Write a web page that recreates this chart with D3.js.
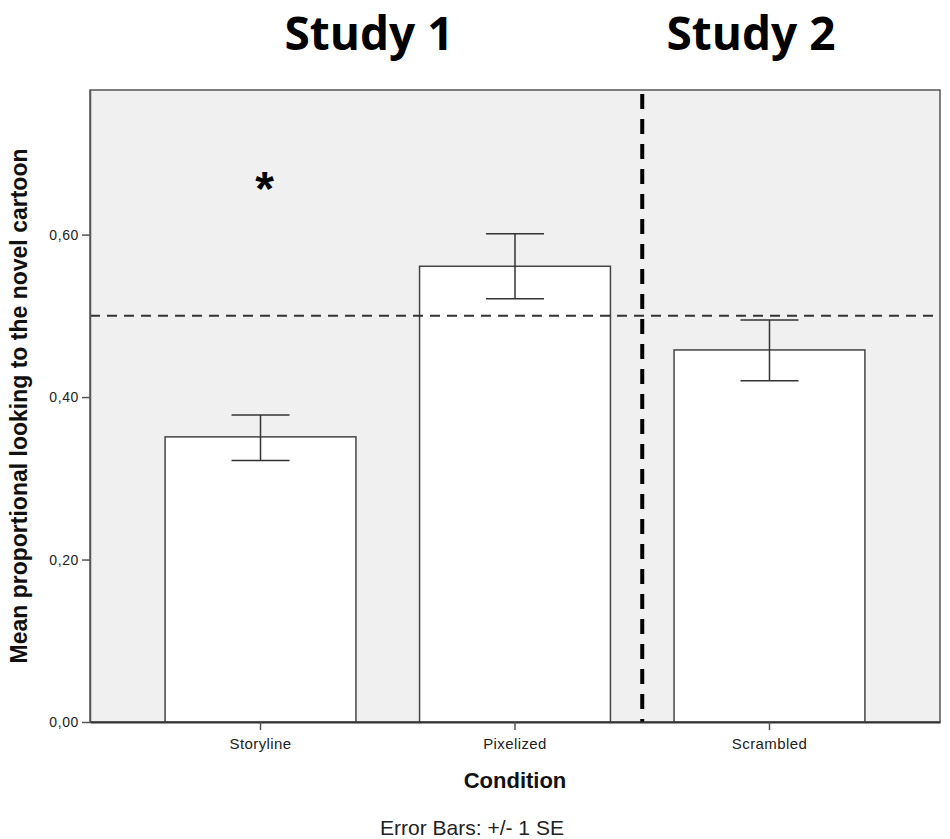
<!DOCTYPE html>
<meta charset="utf-8">
<style>
    body { margin: 0; background: white; }
</style>
<script src="https://d3js.org/d3.v7.min.js"></script>
<body>
<script>

    // data
    var conditions = ["Storyline", "Pixelized", "Scrambled"]
    var means = [0.351, 0.561, 0.458]
    var seLow = [0.322, 0.521, 0.420]
    var seHigh = [0.378, 0.601, 0.495]
    var yTicks = [0, 0.2, 0.4, 0.6]
    var chance = 0.5
    var studies = ["Study 1", "Study 2"]

    var width = 950
    var height = 839
    var margin = { top: 90, right: 10, bottom: 117, left: 90 }

    var svg = d3.select("body")
        .append("svg")
        .attr("width", width)
        .attr("height", height)

    var x = d3.scaleBand()
        .domain(conditions)
        .range([margin.left, width - margin.right])
        .paddingInner(0.25)
        .paddingOuter(0.295)

    var y = d3.scaleLinear()
        .domain([0, 0.778])
        .range([height - margin.bottom, margin.top])

    var fmt = d3.formatLocale({ decimal: ",", thousands: ".", grouping: [3], currency: ["", ""] }).format(".2f")

    // plot background
    svg.append("rect")
        .attr("x", margin.left)
        .attr("y", margin.top)
        .attr("width", width - margin.left - margin.right)
        .attr("height", height - margin.top - margin.bottom)
        .attr("fill", "#f0f0f0")
        .attr("stroke", "#555")
        .attr("stroke-width", 1.5)

    // bars
    svg.selectAll(".bar")
        .data(conditions)
        .enter()
        .append("rect")
        .attr("class", "bar")
        .attr("x", function (d) { return x(d) })
        .attr("width", x.bandwidth())
        .attr("y", function (d, i) { return y(means[i]) })
        .attr("height", function (d, i) { return y(0) - y(means[i]) })
        .attr("fill", "white")
        .attr("stroke", "#444")
        .attr("stroke-width", 1.5)

    // chance line
    svg.append("line")
        .attr("x1", margin.left)
        .attr("x2", width - margin.right)
        .attr("y1", y(chance))
        .attr("y2", y(chance))
        .attr("stroke", "#333")
        .attr("stroke-width", 2)
        .attr("stroke-dasharray", "10,7")

    // error bars
    var cap = 29
    var eb = svg.selectAll(".eb")
        .data(conditions)
        .enter()
        .append("g")
        .attr("class", "eb")
        .attr("stroke", "#333")
        .attr("stroke-width", 1.5)

    eb.append("line")
        .attr("x1", function (d) { return x(d) + x.bandwidth() / 2 })
        .attr("x2", function (d) { return x(d) + x.bandwidth() / 2 })
        .attr("y1", function (d, i) { return y(seLow[i]) })
        .attr("y2", function (d, i) { return y(seHigh[i]) })
    eb.append("line")
        .attr("x1", function (d) { return x(d) + x.bandwidth() / 2 - cap })
        .attr("x2", function (d) { return x(d) + x.bandwidth() / 2 + cap })
        .attr("y1", function (d, i) { return y(seHigh[i]) })
        .attr("y2", function (d, i) { return y(seHigh[i]) })
    eb.append("line")
        .attr("x1", function (d) { return x(d) + x.bandwidth() / 2 - cap })
        .attr("x2", function (d) { return x(d) + x.bandwidth() / 2 + cap })
        .attr("y1", function (d, i) { return y(seLow[i]) })
        .attr("y2", function (d, i) { return y(seLow[i]) })

    // divider between studies
    var divX = (x("Pixelized") + x.bandwidth() + x("Scrambled")) / 2
    svg.append("line")
        .attr("x1", divX)
        .attr("x2", divX)
        .attr("y1", margin.top + 4)
        .attr("y2", y(0))
        .attr("stroke", "black")
        .attr("stroke-width", 4)
        .attr("stroke-dasharray", "15,10")

    // axes
    var yAxis = svg.append("g")
        .attr("transform", "translate(" + margin.left + ",0)")
        .call(d3.axisLeft(y).tickValues(yTicks).tickFormat(fmt).tickSize(8).tickSizeOuter(0))
    yAxis.select(".domain").attr("stroke", "#555").attr("stroke-width", 1.5)
    yAxis.selectAll(".tick line").attr("stroke", "#555").attr("stroke-width", 1.5)
    yAxis.selectAll(".tick text")
        .attr("x", -11)
        .attr("font-family", "Liberation Sans, Arial, sans-serif")
        .attr("font-size", "14px")
        .attr("letter-spacing", "0.6px")
        .attr("fill", "#222")

    var xAxis = svg.append("g")
        .attr("transform", "translate(0," + y(0) + ")")
        .call(d3.axisBottom(x).tickSize(8).tickSizeOuter(0))
    xAxis.select(".domain").attr("stroke", "#333").attr("stroke-width", 2)
    xAxis.selectAll(".tick line").attr("stroke", "#555").attr("stroke-width", 1.5)
    xAxis.selectAll(".tick text")
        .attr("y", 16)
        .attr("font-family", "Liberation Sans, Arial, sans-serif")
        .attr("font-size", "15px")
        .attr("letter-spacing", "0.4px")
        .attr("fill", "#222")

    // axis titles
    svg.append("text")
        .text("Mean proportional looking to the novel cartoon")
        .attr("transform", "translate(27," + ((margin.top + y(0)) / 2) + ") rotate(-90)")
        .attr("text-anchor", "middle")
        .attr("font-family", "Liberation Sans, Arial, sans-serif")
        .attr("font-weight", "bold")
        .attr("font-size", "23px")
        .attr("fill", "#111")

    svg.append("text")
        .text("Condition")
        .attr("x", 515)
        .attr("y", 788)
        .attr("text-anchor", "middle")
        .attr("font-family", "Liberation Sans, Arial, sans-serif")
        .attr("font-weight", "bold")
        .attr("font-size", "22px")
        .attr("fill", "#111")

    svg.append("text")
        .text("Error Bars: +/- 1 SE")
        .attr("x", 472)
        .attr("y", 835)
        .attr("text-anchor", "middle")
        .attr("font-family", "Liberation Sans, Arial, sans-serif")
        .attr("font-size", "21px")
        .attr("fill", "#222")

    // study headings
    svg.selectAll(".study")
        .data(studies)
        .enter()
        .append("text")
        .attr("class", "study")
        .text(function (d) { return d })
        .attr("x", function (d, i) { return i == 0 ? 369 : 751 })
        .attr("y", 49.5)
        .attr("text-anchor", "middle")
        .attr("font-family", "Open Sans, sans-serif")
        .attr("font-weight", "bold")
        .attr("font-size", "46px")
        .attr("fill", "black")

    // significance mark
    svg.append("text")
        .text("*")
        .attr("x", x("Storyline") + x.bandwidth() / 2 + 4)
        .attr("y", 205)
        .attr("text-anchor", "middle")
        .attr("font-family", "Liberation Sans, Arial, sans-serif")
        .attr("font-weight", "bold")
        .attr("font-size", "48px")
        .attr("fill", "black")

</script>
